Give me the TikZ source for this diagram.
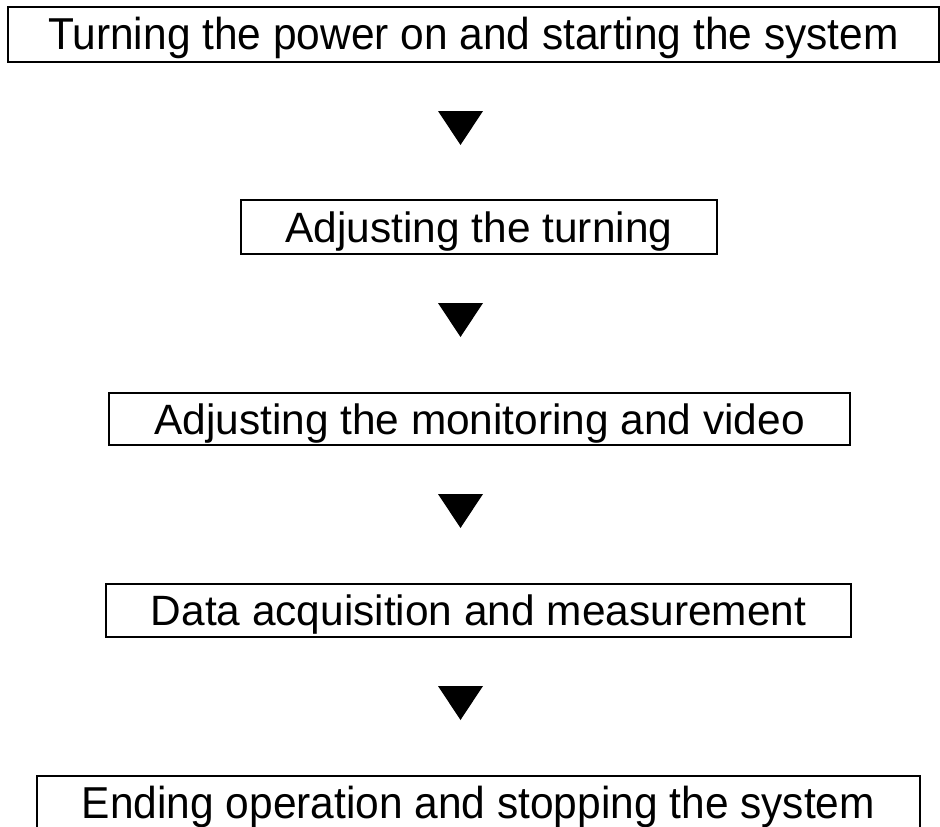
\documentclass[tikz,border=0pt]{standalone}
\usepackage{fontspec}
\setmainfont{Liberation Sans}
\newfontfamily\narrowfont[FakeStretch=0.95]{Liberation Sans}
\usetikzlibrary{calc}
\begin{document}
\begin{tikzpicture}[x=1pt,y=-1pt,
  stepbox/.style={draw=black, line width=1.8pt, inner sep=0pt,
    text height=36pt, text depth=6pt, minimum height=54pt,
    font=\fontsize{42.4pt}{50pt}\selectfont},
  widebox/.style={stepbox, font=\narrowfont\fontsize{44.7pt}{52pt}\selectfont},
  tri/.style={fill=black}]
\useasboundingbox (0,0) rectangle (940,827);
\node[widebox, minimum width=931pt, minimum height=55pt] (b1) at (473.5,34.5) {Turning the power on and starting the system};
\node[stepbox, minimum width=476pt] (b2) at (479,227) {Adjusting the turning};
\node[stepbox, minimum width=741pt, minimum height=52pt] (b3) at (479.5,419) {Adjusting the monitoring and video};
\node[stepbox, minimum width=745pt, minimum height=53pt] (b4) at (478.5,610.5) {Data acquisition and measurement};
\node[widebox, minimum width=883pt] (b5) at (478.5,803) {Ending operation and stopping the system};
\foreach \t/\n in {111/a1,303/a2,494/a3,686/a4}{
  \coordinate (\n) at (460.5,\t);
  \fill[tri] ($(\n)+(-22.5,0)$) -- ($(\n)+(22.5,0)$) -- ($(\n)+(0,34)$) -- cycle;
}
\end{tikzpicture}
\end{document}
